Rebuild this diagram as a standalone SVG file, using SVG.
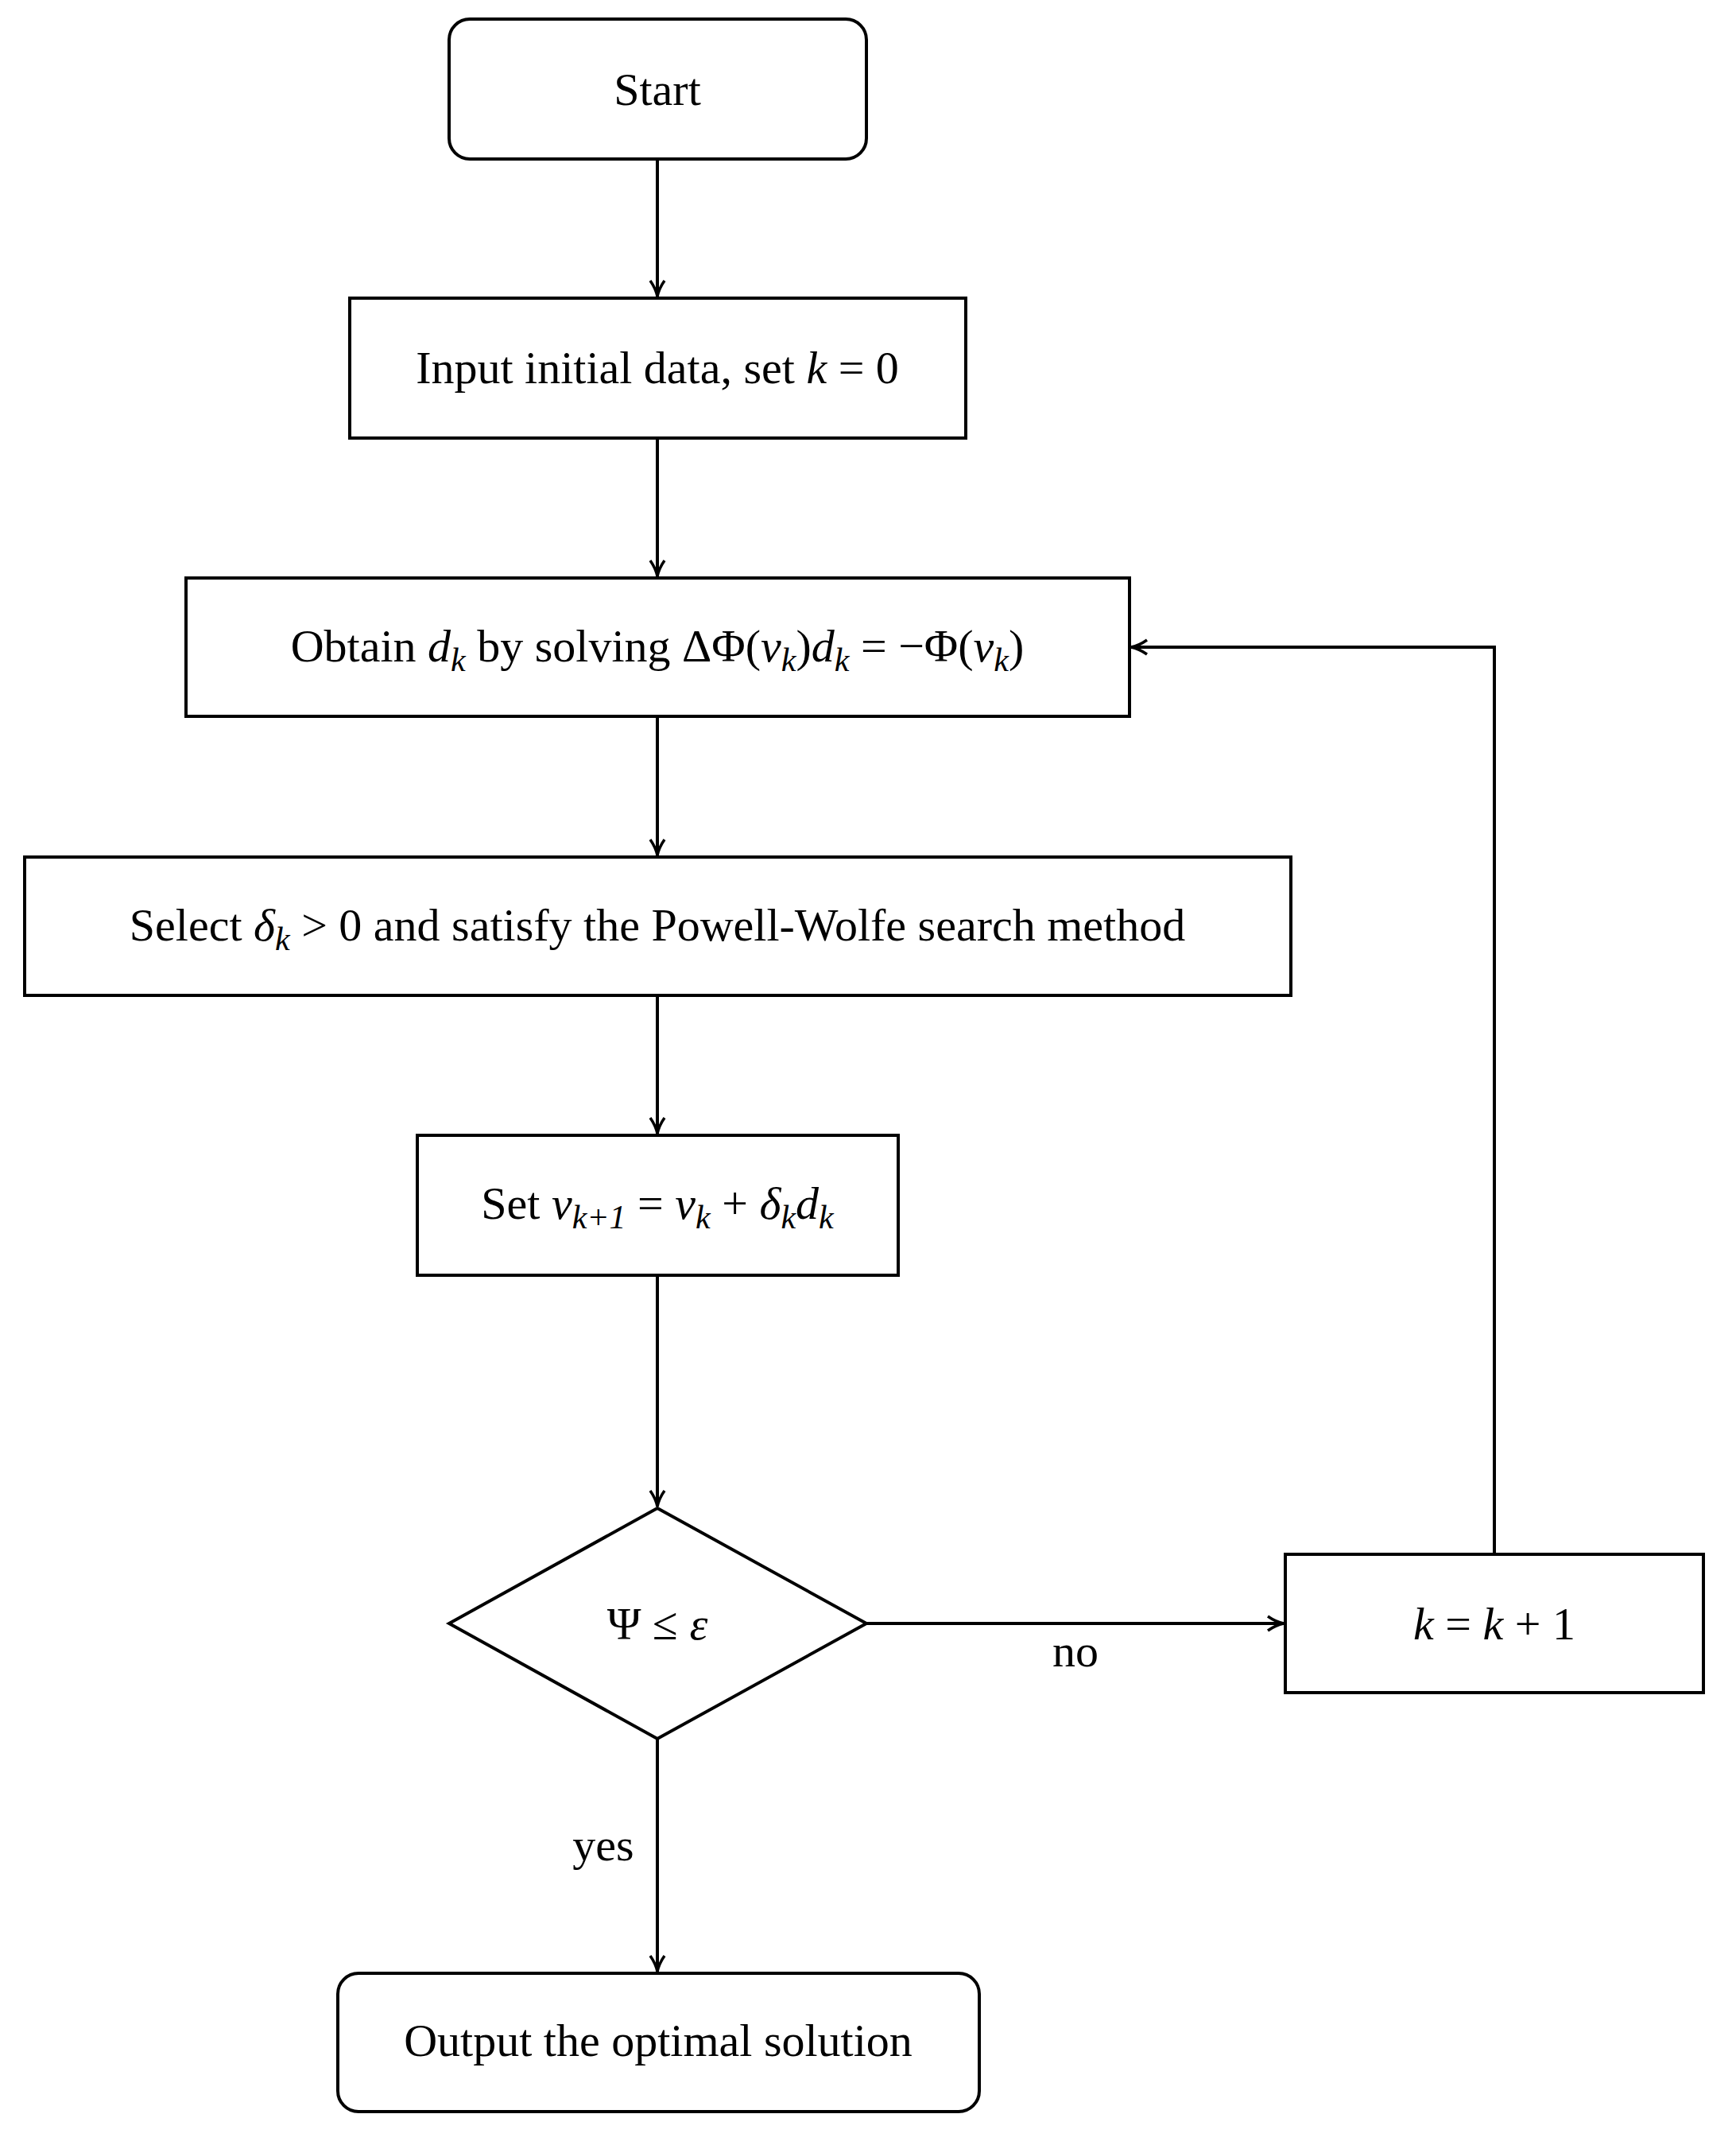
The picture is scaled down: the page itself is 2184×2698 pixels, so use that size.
<svg xmlns="http://www.w3.org/2000/svg" width="2184" height="2698" viewBox="0 0 2184 2698">
<style>
.n{fill:#fff;stroke:#000;stroke-width:4}
.t{font-family:"Liberation Serif",serif;font-size:58px;text-anchor:middle;fill:#000}
.i{font-style:italic}
.s{font-size:42px;font-style:italic}
.c{fill:none;stroke:#000;stroke-width:4}
</style>
<defs><marker id="a" markerWidth="10" markerHeight="10" refX="9" refY="5" orient="auto" markerUnits="userSpaceOnUse" viewBox="0 0 10 10"><path d="M0,0 L10,5 L0,10 Z" transform="scale(1)" fill="#000"/></marker>
<marker id="b" viewBox="0 0 24 24" markerWidth="24" markerHeight="24" refX="22" refY="12" orient="auto" markerUnits="userSpaceOnUse"><path d="M2,3 Q12,10 22,12 Q12,14 2,21" fill="none" stroke="#000" stroke-width="3.5"/></marker></defs>
<g id="start"><rect class="n" x="565" y="24" width="525" height="176" rx="26"/><text class="t" x="827" y="132">Start</text></g>
<g id="input"><rect class="n" x="440" y="375" width="775" height="176"/><text class="t" x="827" y="482">Input initial data, set <tspan class="i">k</tspan> = 0</text></g>
<g id="obtain"><rect class="n" x="234" y="727" width="1187" height="174"/><text class="t" x="827" y="832">Obtain <tspan class="i">d</tspan><tspan class="s" dy="12">k</tspan><tspan dy="-12"> by solving ΔΦ(</tspan><tspan class="i">v</tspan><tspan class="s" dy="12">k</tspan><tspan dy="-12">)</tspan><tspan class="i">d</tspan><tspan class="s" dy="12">k</tspan><tspan dy="-12"> = −Φ(</tspan><tspan class="i">v</tspan><tspan class="s" dy="12">k</tspan><tspan dy="-12">)</tspan></text></g>
<g id="select"><rect class="n" x="31" y="1078" width="1593" height="174"/><text class="t" x="827" y="1183">Select <tspan class="i">δ</tspan><tspan class="s" dy="12">k</tspan><tspan dy="-12"> &gt; 0 and satisfy the Powell-Wolfe search method</tspan></text></g>
<g id="set"><rect class="n" x="525" y="1428" width="605" height="176"/><text class="t" x="827" y="1533">Set <tspan class="i">v</tspan><tspan class="s" dy="12">k+1</tspan><tspan dy="-12"> = </tspan><tspan class="i">v</tspan><tspan class="s" dy="12">k</tspan><tspan dy="-12"> + </tspan><tspan class="i">δ</tspan><tspan class="s" dy="12">k</tspan><tspan class="i" dy="-12">d</tspan><tspan class="s" dy="12">k</tspan></text></g>
<g id="check"><polygon class="n" points="827,1897 1090,2042 827,2187 565,2042"/><text class="t" x="827" y="2062">Ψ ≤ <tspan class="i">ε</tspan></text></g>
<g id="inc"><rect class="n" x="1617" y="1955" width="526" height="174"/><text class="t" x="1880" y="2062"><tspan class="i">k</tspan> = <tspan class="i">k</tspan> + 1</text></g>
<g id="output"><rect class="n" x="425" y="2482" width="807" height="174" rx="26"/><text class="t" x="828" y="2586">Output the optimal solution</text></g>
<g id="connectors">
<path class="c" d="M827,200V373" marker-end="url(#b)"/>
<path class="c" d="M827,551V725" marker-end="url(#b)"/>
<path class="c" d="M827,901V1076" marker-end="url(#b)"/>
<path class="c" d="M827,1252V1426" marker-end="url(#b)"/>
<path class="c" d="M827,1604V1895" marker-end="url(#b)"/>
<path class="c" d="M1090,2042H1615" marker-end="url(#b)"/>
<path class="c" d="M1880,1955V814H1423" marker-end="url(#b)"/>
<path class="c" d="M827,2187V2480" marker-end="url(#b)"/>
<text class="t" x="1353" y="2096">no</text>
<text class="t" x="759" y="2340">yes</text>
</g>
</svg>
